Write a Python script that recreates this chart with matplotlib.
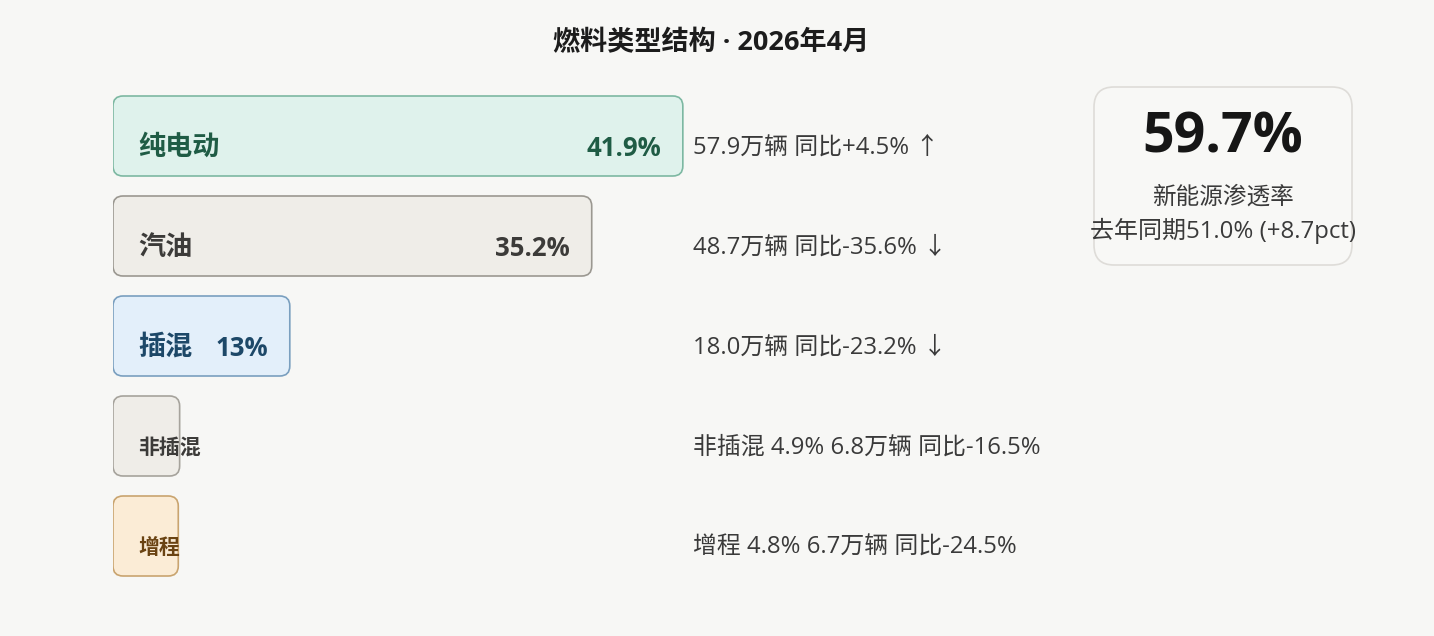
import numpy as np
import matplotlib.pyplot as plt
from matplotlib.patches import FancyBboxPatch

plt.rcParams['font.family'] = ['Open Sans', 'Noto Sans CJK SC', 'DejaVu Sans']

# 数据: 2026年4月 燃料类型结构
categories = ['纯电动', '汽油', '插混', '非插混', '增程']
shares = [41.9, 35.2, 13.0, 4.9, 4.8]          # 占比 %
share_labels = ['41.9%', '35.2%', '13%', '', '']
volumes = [57.9, 48.7, 18.0, 6.8, 6.7]          # 万辆
yoy = [4.5, -35.6, -23.2, -16.5, -24.5]         # 同比 %

nev_rate = 59.7
nev_last_year = 51.0
nev_delta = 8.7

# 样式
bg = '#f7f7f5'
fills = ['#dff2ec', '#efede8', '#e3effa', '#efede8', '#fbecd6']
edges = ['#7db8a2', '#9b9891', '#7a9fbf', '#a6a39c', '#c9a46f']
txt_colors = ['#1f5c45', '#3c3b39', '#1d4868', '#3c3b39', '#6a4312']

W, H = 1434, 636
fig = plt.figure(figsize=(W / 100, H / 100), dpi=100, facecolor=bg)

fig.text(0.496, 1 - 43 / H, '燃料类型结构 · 2026年4月', ha='center', va='center',
         fontsize=19.5, fontweight='bold', color='#1c1c1c')

# 条形区域, x: 占比, y: 类别
px_per_pct = 13.6
left, right, top, bottom = 113, 1060, 86, 586
ax = fig.add_axes([left / W, 1 - bottom / H, (right - left) / W, (bottom - top) / H])
ax.set_xlim(0, (right - left) / px_per_pct)
ax.set_ylim(len(categories) - 0.5, -0.5)
ax.axis('off')

asp = (1 / 100) / (1 / px_per_pct)
rad = 10 / px_per_pct
x_note = max(shares)

for i, cat in enumerate(categories):
    small = shares[i] < 10
    ax.add_patch(FancyBboxPatch((0, i - 0.4), shares[i], 0.8,
                                boxstyle=f'round,pad=0,rounding_size={rad}',
                                mutation_aspect=asp, facecolor=fills[i],
                                edgecolor=edges[i], linewidth=1.2))
    ax.annotate(cat, (0, i), xytext=(25, -12), textcoords='offset pixels',
                ha='left', va='center', color=txt_colors[i],
                fontsize=15 if small else 19.5, fontweight='bold')
    if share_labels[i]:
        ax.annotate(share_labels[i], (shares[i], i), xytext=(-22, -12),
                    textcoords='offset pixels', ha='right', va='center',
                    color=txt_colors[i], fontsize=18.5, fontweight='bold')
    if small:
        note = f'{cat} {shares[i]:.1f}% {volumes[i]:.1f}万辆 同比{yoy[i]:+.1f}%'
    else:
        arrow = '↑' if yoy[i] > 0 else '↓'
        note = f'{volumes[i]:.1f}万辆 同比{yoy[i]:+.1f}% {arrow}'
    ax.annotate(note, (x_note, i), xytext=(10, -12), textcoords='offset pixels',
                ha='left', va='center', color='#3a3a3a', fontsize=17.2)

# 新能源渗透率卡片
kx = fig.add_axes([1093 / W, 1 - 266 / H, 260 / W, 180 / H])
kx.set_xlim(0, 260)
kx.set_ylim(0, 180)
kx.axis('off')
kx.add_patch(FancyBboxPatch((1, 1), 258, 178, boxstyle='round,pad=0,rounding_size=20',
                            facecolor='#f8f8f6', edgecolor='#dedcd8', linewidth=1.2))
kx.text(130, 128, f'{nev_rate}%', ha='center', va='center', fontsize=40,
        fontweight='bold', color='#161616')
kx.text(130, 68, '新能源渗透率', ha='center', va='center', fontsize=17, color='#3a3a3a')
kx.text(130, 35, f'去年同期{nev_last_year:.1f}% (+{nev_delta}pct)', ha='center',
        va='center', fontsize=17.3, color='#3a3a3a')

fig.savefig('out.png', dpi=100, facecolor=bg)
